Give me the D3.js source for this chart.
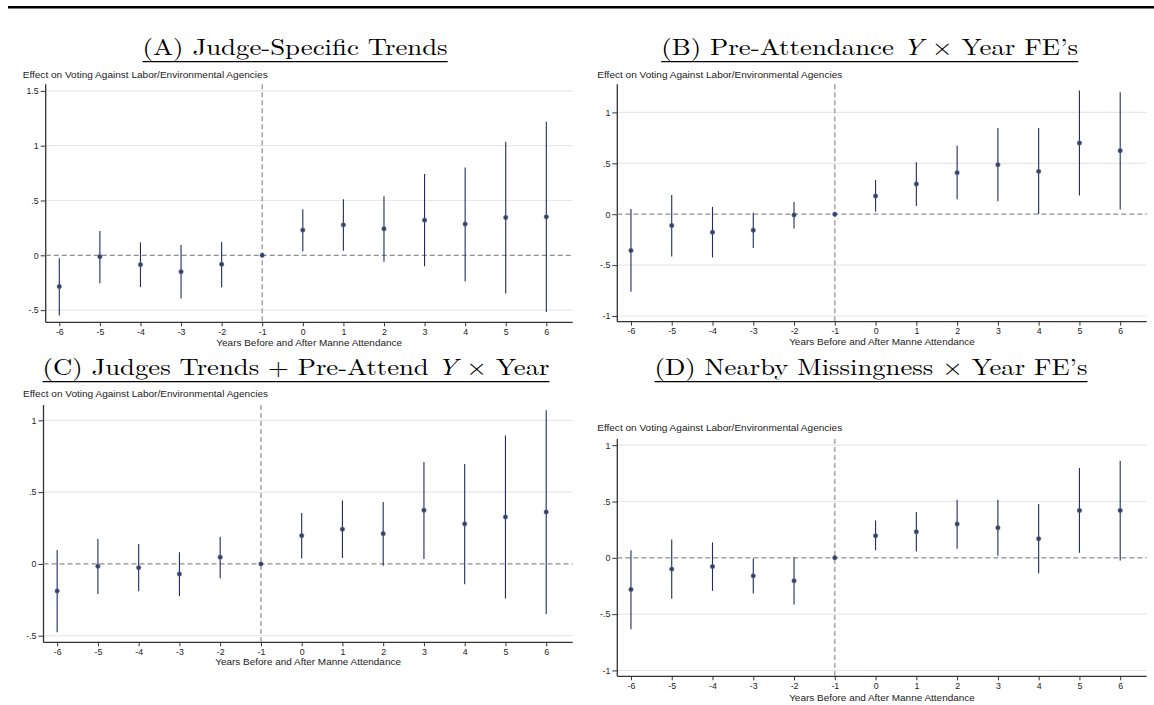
<!DOCTYPE html>
<html><head><meta charset="utf-8">
<script src="https://cdn.jsdelivr.net/npm/d3@7"></script>
<style>
html,body{margin:0;padding:0;background:#fff;}
svg{display:block;}
</style></head>
<body>
<svg id="c" width="1154" height="705"></svg>
<script>
const years = [-6,-5,-4,-3,-2,-1,0,1,2,3,4,5,6];

// Panel A: Judge-Specific Trends
const coefA = [-0.285,-0.012,-0.085,-0.149,-0.082,0,0.230,0.278,0.242,0.321,0.285,0.345,0.351];
const loA   = [-0.549,-0.255,-0.291,-0.394,-0.291,0,0.036,0.042,-0.058,-0.100,-0.236,-0.349,-0.518];
const hiA   = [-0.027,0.221,0.118,0.094,0.121,0,0.421,0.512,0.539,0.742,0.800,1.036,1.218];

// Panel B: Pre-Attendance Y x Year FE's
const coefB = [-0.357,-0.111,-0.177,-0.157,-0.007,0,0.179,0.297,0.408,0.486,0.421,0.699,0.624];
const loB   = [-0.762,-0.415,-0.425,-0.333,-0.141,0,0.026,0.081,0.147,0.127,0.003,0.183,0.045];
const hiB   = [0.052,0.189,0.072,0.013,0.121,0,0.336,0.510,0.673,0.846,0.846,1.216,1.199];

// Panel C: Judges Trends + Pre-Attend Y x Year
const coefC = [-0.188,-0.016,-0.026,-0.070,0.047,0,0.197,0.242,0.211,0.374,0.279,0.327,0.362];
const loC   = [-0.476,-0.209,-0.190,-0.223,-0.100,0,0.037,0.042,-0.012,0.035,-0.142,-0.241,-0.348];
const hiC   = [0.097,0.174,0.139,0.081,0.190,0,0.355,0.441,0.432,0.710,0.696,0.894,1.070];

// Panel D: Nearby Missingness x Year FE's
const coefD = [-0.281,-0.100,-0.077,-0.160,-0.204,0,0.196,0.231,0.300,0.267,0.169,0.421,0.421];
const loD   = [-0.634,-0.364,-0.293,-0.317,-0.415,0,0.068,0.057,0.080,0.018,-0.136,0.044,-0.023];
const hiD   = [0.068,0.163,0.137,-0.006,0.006,0,0.332,0.406,0.516,0.516,0.477,0.797,0.862];

const ticksA = [-0.5,0,0.5,1,1.5];
const ticksB = [-1,-0.5,0,0.5,1];
const ticksC = [-0.5,0,0.5,1];
const ticksD = [-1,-0.5,0,0.5,1];

const yLabel = "Effect on Voting Against Labor/Environmental Agencies";
const xLabel = "Years Before and After Manne Attendance";

const svg = d3.select("#c");
const sans = "'Liberation Sans', Arial, Helvetica, sans-serif";
const serif = "'Latin Modern Roman','CMU Serif','Liberation Serif','DejaVu Serif',serif";

// top rule
svg.append("line").attr("x1",8).attr("x2",1154).attr("y1",7.3).attr("y2",7.3)
  .attr("stroke","#000").attr("stroke-width",2.6);

const fmt = d => d===0 ? "0" : String(d).replace(/^(-?)0\./,"$1.");

const panels = [
  {title:[["(A) Judge-Specific Trends",""]], tx0:142.5, tx1:447.7, tb:55, ul:61.7,
   L:45.7, R:572.7, T:84.3, B:322.3, yd:[-0.611,1.56], ticks:ticksA, coef:coefA, lo:loA, hi:hiA, ylx:22.7, yly:75, xly:342.7},
  {title:[["(B) Pre-Attendance ",""],["Y","italic"],[" × Year FE’s",""]], tx0:661.2, tx1:1078.2, tb:55, ul:61.7,
   L:617.3, R:1146.7, T:84.3, B:321.7, yd:[-1.056,1.276], ticks:ticksB, coef:coefB, lo:loB, hi:hiB, ylx:597.3, yly:75, xly:342.3},
  {title:[["(C) Judges Trends + Pre-Attend ",""],["Y","italic"],[" × Year",""]], tx0:42.6, tx1:549.5, tb:375, ul:381.7,
   L:43.5, R:572.7, T:405, B:642.3, yd:[-0.546,1.107], ticks:ticksC, coef:coefC, lo:loC, hi:hiC, ylx:23, yly:394.3, xly:662.3},
  {title:[["(D) Nearby Missingness × Year FE’s",""]], tx0:654.6, tx1:1087.5, tb:375, ul:381.7,
   L:617.3, R:1146.7, T:439, B:676.3, yd:[-1.052,1.055], ticks:ticksD, coef:coefD, lo:loD, hi:hiD, ylx:597.2, yly:428.3, xly:697.7},
];

panels.forEach(p => {
  const g = svg.append("g");
  const x = d3.scaleLinear().domain([-6.335,6.65]).range([p.L,p.R]);
  const y = d3.scaleLinear().domain(p.yd).range([p.B,p.T]);

  // title
  const t = g.append("text").attr("x",p.tx0).attr("y",p.tb)
    .attr("font-family",serif).attr("font-size",23).attr("fill","#000")
    .attr("textLength",p.tx1-p.tx0).attr("lengthAdjust","spacingAndGlyphs");
  p.title.forEach(([s,st]) => t.append("tspan").text(s).attr("font-style",st||null));
  g.append("line").attr("x1",p.tx0).attr("x2",p.tx1).attr("y1",p.ul).attr("y2",p.ul)
    .attr("stroke","#000").attr("stroke-width",1.2);

  // grid lines
  g.append("g").selectAll("line").data(p.ticks.filter(d=>d!==0)).join("line")
    .attr("x1",p.L).attr("x2",p.R).attr("y1",d=>y(d)).attr("y2",d=>y(d))
    .attr("stroke","#e7e7e7").attr("stroke-width",1.2);

  // y label
  g.append("text").attr("x",p.ylx).attr("y",p.yly).attr("dy","0.35em")
    .attr("font-family",sans).attr("font-size",8.6).attr("fill","#222")
    .attr("textLength",245).attr("lengthAdjust","spacingAndGlyphs").text(yLabel);
  // x label
  g.append("text").attr("x",(p.L+p.R)/2).attr("y",p.xly).attr("dy","0.35em")
    .attr("text-anchor","middle").attr("font-family",sans).attr("font-size",8.6).attr("fill","#222")
    .attr("textLength",185.7).attr("lengthAdjust","spacingAndGlyphs").text(xLabel);

  // axes
  const yAxis = d3.axisLeft(y).tickValues(p.ticks).tickFormat(fmt).tickSize(5).tickPadding(2);
  const ya = g.append("g").attr("transform",`translate(${p.L},0)`).call(yAxis);
  ya.select(".domain").attr("d",`M0,${p.T}V${p.B}`);
  const xAxis = d3.axisBottom(x).tickValues(years).tickFormat(d => String(d)).tickSize(4).tickPadding(2);
  const xa = g.append("g").attr("transform",`translate(0,${p.B})`).call(xAxis);
  xa.select(".domain").attr("d",`M${p.L},0H${p.R}`);
  [ya,xa].forEach(a=>{
    a.selectAll(".domain").attr("stroke","#333").attr("stroke-width",1.3);
    a.selectAll(".tick line").attr("stroke","#333").attr("stroke-width",1);
    a.selectAll("text").attr("font-family",sans).attr("font-size",8.8).attr("fill","#222");
  });

  // reference lines
  g.append("line").attr("x1",p.L).attr("x2",p.R).attr("y1",y(0)).attr("y2",y(0))
    .attr("stroke","#8f8f8f").attr("stroke-width",1.3).attr("stroke-dasharray","5,3");
  g.append("line").attr("x1",x(-1)).attr("x2",x(-1)).attr("y1",p.T).attr("y2",p.B)
    .attr("stroke","#8f8f8f").attr("stroke-width",1.2).attr("stroke-dasharray","5,3");

  // CIs
  g.append("g").selectAll("line").data(years.map((yr,i)=>({yr,lo:p.lo[i],hi:p.hi[i]})).filter(d=>d.hi!==d.lo))
    .join("line").attr("x1",d=>x(d.yr)).attr("x2",d=>x(d.yr))
    .attr("y1",d=>y(d.lo)).attr("y2",d=>y(d.hi))
    .attr("stroke","#1f2d60").attr("stroke-width",1.1);
  // points
  g.append("g").selectAll("circle").data(years.map((yr,i)=>({yr,c:p.coef[i]})))
    .join("circle").attr("cx",d=>x(d.yr)).attr("cy",d=>y(d.c)).attr("r",2.2)
    .attr("fill","#34416a").attr("stroke","#5a6583").attr("stroke-width",0.6);
});
</script>
</body></html>
